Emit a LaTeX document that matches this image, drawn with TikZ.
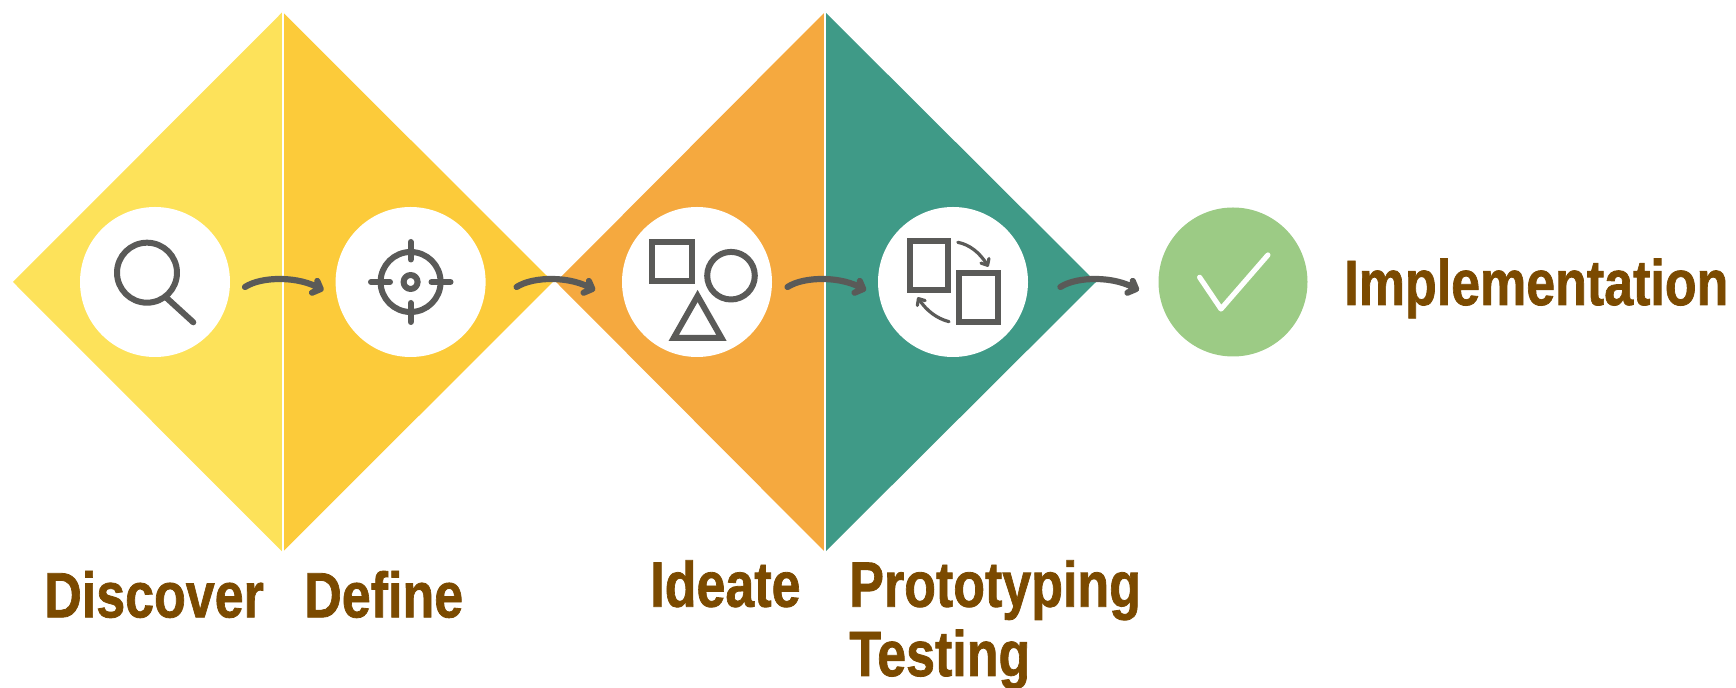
\documentclass[tikz,border=0pt]{standalone}
\usepackage{fontspec}
\setmainfont{Liberation Sans}[BoldFeatures={FakeBold=1.3}]
\usetikzlibrary{arrows.meta,bending}
\definecolor{cyellow}{HTML}{FDE25A}
\definecolor{cgold}{HTML}{FCCB3A}
\definecolor{corange}{HTML}{F5A93F}
\definecolor{cteal}{HTML}{3F9A87}
\definecolor{cgreen}{HTML}{9CCB85}
\definecolor{cgray}{HTML}{5A5A58}
\definecolor{cbrown}{HTML}{7B4A00}
\tikzset{
  disc/.style={circle,fill=white,draw=none,minimum size=75pt,inner sep=0pt},
  donedisc/.style={circle,fill=cgreen,draw=none,minimum size=74.5pt,inner sep=0pt},
  divider/.style={draw=white},
  icon/.style={draw=cgray,line width=3pt,line cap=round,line join=round},
  iconsharp/.style={draw=cgray,line width=3pt,line join=miter},
  flow/.style={draw=cgray,line width=3.1pt,line cap=round,line join=round},
  miniflow/.style={draw=cgray,line width=1.6pt,line cap=round,-{Straight Barb[length=2.6pt,width=4.6pt,line width=1.6pt,round,flex=0]}},
  label/.style={font=\fontsize{32pt}{32pt}\selectfont\bfseries,text=cbrown,inner sep=0pt,anchor=base west,transform shape},
}
\begin{document}
\begin{tikzpicture}[x=0.5pt,y=-0.5pt]
\useasboundingbox (0,0) rectangle (1736,688);
% diamonds
\fill[cyellow] (13,282) -- (282.5,12) -- (282.5,552) -- cycle;
\fill[cgold] (282.5,12) -- (553,282) -- (282.5,552) -- cycle;
\fill[corange] (556,282) -- (825,12) -- (825,552) -- cycle;
\fill[cteal] (825,12) -- (1096,282) -- (825,552) -- cycle;
\draw[divider,line width=1pt] (282.5,12) -- (282.5,552);
\draw[divider,line width=1.3pt] (825,12) -- (825,552);
% discs
\node[disc] (c1) at (155,282) {};
\node[disc] (c2) at (410.6,282) {};
\node[disc] (c3) at (697,282) {};
\node[disc] (c4) at (953,282) {};
\node[donedisc] (c5) at (1233,282) {};
% magnifier
\draw[icon] (147,272.7) circle[radius=30];
\draw[icon] (167,298.3) -- (193.3,322.3);
% target
\draw[icon] (410.6,282) circle[radius=30];
\draw[icon] (410.6,282) circle[radius=7];
\draw[icon] (410.6,242) -- (410.6,259.5);
\draw[icon] (410.6,303) -- (410.6,322);
\draw[icon] (371,282) -- (390,282);
\draw[icon] (431.5,282) -- (450.5,282);
% shapes
\draw[iconsharp] (652,242.3) rectangle (691.5,281.3);
\draw[icon] (731,275.7) circle[radius=23.8];
\draw[iconsharp] (697.6,296) -- (673.7,338) -- (721.5,338) -- cycle;
% prototype loop
\draw[iconsharp] (909.8,241.5) rectangle (948.2,290);
\draw[iconsharp] (958.7,273.5) rectangle (997.5,322.5);
\coordinate (m1s) at (957.8,242.3);
\coordinate (m1e) at (988.4,266.7);
\coordinate (m2s) at (949,321.7);
\coordinate (m2e) at (917.6,297.3);
\draw[miniflow] (m1s) .. controls (971,245) and (981,254) .. (m1e);
\draw[miniflow] (m2s) .. controls (935,318) and (925,309) .. (m2e);
% check
\draw[draw=white,line width=2.6pt,line cap=round,line join=round] (1199.6,277.3) -- (1221,309) -- (1267.9,255);
% connectors
\coordinate (s1) at (245,287);   \coordinate (e1) at (320.7,289);
\coordinate (s2) at (516.6,287); \coordinate (e2) at (592.3,289);
\coordinate (s3) at (787.5,287); \coordinate (e3) at (863.2,289);
\coordinate (s4) at (1060.4,287);\coordinate (e4) at (1136.1,289);
\draw[flow] (s1) .. controls +(17,-11) and +(-21,-13) .. (e1) +(-3.4,-8) -- (e1) -- +(-8.7,3.7);
\draw[flow] (s2) .. controls +(17,-11) and +(-21,-13) .. (e2) +(-3.4,-8) -- (e2) -- +(-8.7,3.7);
\draw[flow] (s3) .. controls +(17,-11) and +(-21,-13) .. (e3) +(-3.4,-8) -- (e3) -- +(-8.7,3.7);
\draw[flow] (s4) .. controls +(17,-11) and +(-21,-13) .. (e4) +(-3.4,-8) -- (e4) -- +(-8.7,3.7);
% labels
\node[label,xscale=0.812] (t1) at (44,617.3) {Discover};
\node[label,xscale=0.812] (t2) at (304,617.3) {Define};
\node[label,xscale=0.812] (t3) at (650,606.7) {Ideate};
\node[label,xscale=0.812] (t4) at (849,606.7) {Prototyping};
\node[label,xscale=0.812] (t5) at (849,676) {Testing};
\node[label,xscale=0.812] (t6) at (1344,305) {Implementation};
\end{tikzpicture}
\end{document}
